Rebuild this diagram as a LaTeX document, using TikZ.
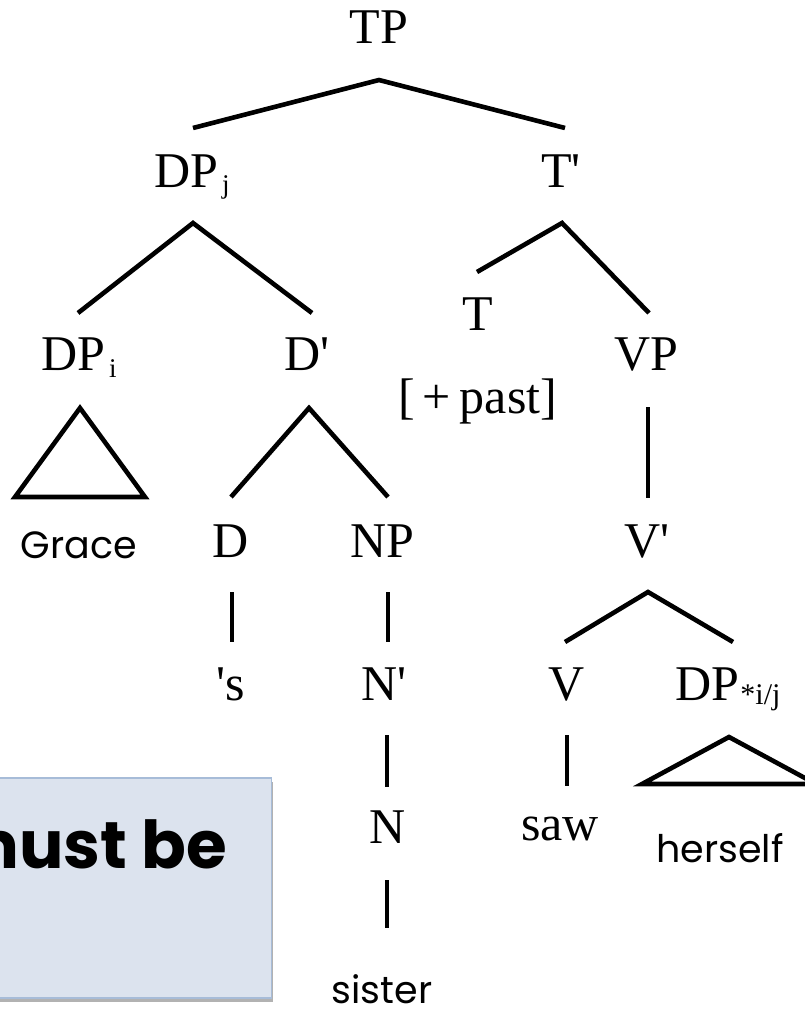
\documentclass[tikz,border=0pt]{standalone}
\usepackage{fontspec}
\usetikzlibrary{shadows}
\newfontfamily\tms{Liberation Serif}[Ligatures=TeXOff]
\newfontfamily\geo{Poppins}
\definecolor{boxfill}{HTML}{DCE3EE}
\definecolor{boxline}{HTML}{A7BCD8}
% lowered index on a category label
\newcommand\lsub[3][27]{{\fontsize{#1}{#1}\selectfont\raisebox{#2}{#3}}}

\begin{document}
\begin{tikzpicture}[x=1pt,y=1pt,
  cat/.style={font=\tms\fontsize{50}{50}\selectfont, anchor=base, inner sep=0pt},
  word/.style={font=\geo\fontsize{38}{38}\selectfont, anchor=base, inner sep=0pt},
  branch/.style={line width=4.6pt, line join=miter},
  roof/.style={line width=4.6pt, line join=miter}]
\useasboundingbox (0,0) rectangle (804,-1009);

% note box on the lower left
\node[draw=boxline, fill=boxfill, line width=1.5pt, inner sep=0pt,
      minimum width=290pt, minimum height=220pt, anchor=north east,
      drop shadow={shadow xshift=2pt, shadow yshift=-4pt, opacity=0.5, fill=black!60}]
  (note) at (272,-777) {};
\node[font=\geo\bfseries\fontsize{66}{66}\selectfont, anchor=base east, inner sep=0pt]
  (must) at (227,-868) {must be};

% category labels
\node[cat] (tp)   at (379,-43)  {TP};
\node[cat] (dpj)  at (192,-187) {DP\kern4pt\lsub{-6pt}{j}};
\node[cat] (tbar) at (561,-187) {T'};
\node[cat] (t)    at (478,-330) {T};
\node[cat] (past) at (478,-413) {[\kern7pt+\kern9pt past]};
\node[cat] (dpi)  at (79,-370)  {DP\kern4pt\lsub{-7pt}{i}};
\node[cat] (dbar) at (307,-370) {D'};
\node[cat] (vp)   at (646,-370) {VP};
\node[cat] (d)    at (231,-557) {D};
\node[cat] (np)   at (382,-557) {NP};
\node[cat] (vbar) at (647,-557) {V'};
\node[cat] (poss) at (231,-700) {'s};
\node[cat] (nbar) at (384,-700) {N'};
\node[cat] (v)    at (567,-700) {V};
\node[cat] (dpx)  at (728,-700) {DP\kern1pt\lsub[30]{-4pt}{*i/j}};
\node[cat] (n)    at (388,-843) {N};
\node[cat] (saw)  at (560,-840) {saw};

% terminal words
\node[word] (grace)   at (79,-558)   {Grace};
\node[word] (herself) at (720,-862)  {herself};
\node[word] (sister)  at (382,-1003) {sister};

% branch end points
\coordinate (tp-b)   at (379,-80);
\coordinate (dpj-t)  at (193,-128);
\coordinate (tbar-t) at (565,-128);
\coordinate (dpj-b)  at (193,-223);
\coordinate (dpi-t)  at (78,-313);
\coordinate (dbar-t) at (312,-313);
\coordinate (tbar-b) at (562,-223);
\coordinate (t-t)    at (477,-272);
\coordinate (vp-t)   at (649,-313);
\coordinate (dbar-b) at (309,-408);
\coordinate (d-t)    at (231,-497);
\coordinate (np-t)   at (388,-497);
\coordinate (vp-b)   at (648,-407);
\coordinate (vbar-t) at (648,-498);
\coordinate (d-b)    at (232,-592);
\coordinate (poss-t) at (232,-642);
\coordinate (np-b)   at (388,-592);
\coordinate (nbar-t) at (388,-642);
\coordinate (vbar-b) at (648,-592);
\coordinate (v-t)    at (565,-642);
\coordinate (dpx-t)  at (733,-642);
\coordinate (nbar-b) at (387,-735);
\coordinate (n-t)    at (387,-787);
\coordinate (v-b)    at (567,-735);
\coordinate (saw-t)  at (567,-786);
\coordinate (n-b)    at (387,-880);
\coordinate (sister-t) at (387,-928);

% branches
\draw[branch] (dpj-t) -- (tp-b) -- (tbar-t);
\draw[branch] (dpi-t) -- (dpj-b) -- (dbar-t);
\draw[branch] (t-t) -- (tbar-b) -- (vp-t);
\draw[branch] (d-t) -- (dbar-b) -- (np-t);
\draw[branch] (vp-b) -- (vbar-t);
\draw[branch] (d-b) -- (poss-t);
\draw[branch] (np-b) -- (nbar-t);
\draw[branch] (v-t) -- (vbar-b) -- (dpx-t);
\draw[branch] (nbar-b) -- (n-t);
\draw[branch] (v-b) -- (saw-t);
\draw[branch] (n-b) -- (sister-t);

% triangles over unanalysed phrases
\draw[roof] (80,-408) -- (145,-497) -- (15,-497) -- cycle;
\draw[roof] (729,-737) -- (816,-784) -- (642,-784) -- cycle;
\end{tikzpicture}
\end{document}
